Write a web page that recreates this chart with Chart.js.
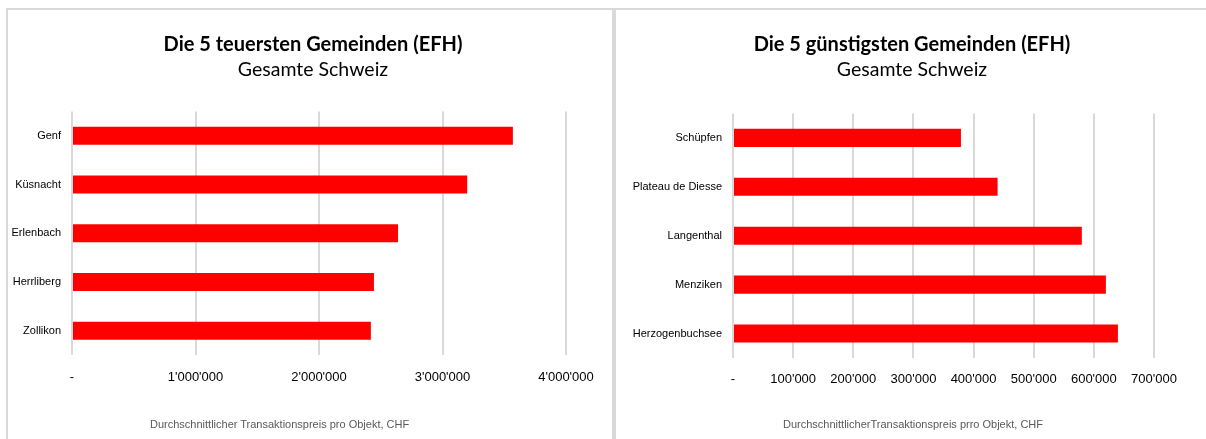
<!DOCTYPE html>
<html>
<head>
<meta charset="utf-8">
<script src="https://cdn.jsdelivr.net/npm/chart.js@4/dist/chart.umd.min.js"></script>
<style>
  html, body { margin: 0; padding: 0; background: #fff; width: 1206px; height: 439px; overflow: hidden; }
  .panel { position: absolute; top: 8px; height: 460px; border: 2px solid #d9d9d9; box-sizing: border-box; background: #fff; }
  #p1 { left: 6px; width: 608px; }
  #p2 { left: 614px; width: 600px; }
  canvas { position: absolute; left: 0; top: 0; }
  .foot { position: absolute; top: 408px; font-family: "Liberation Sans", Arial, sans-serif; font-size: 11px; color: #595959; white-space: nowrap; }
</style>
</head>
<body>
<div class="panel" id="p1">
  <canvas id="c1" width="604" height="429"></canvas>
  <div class="foot" id="f1" style="left:142px;">Durchschnittlicher Transaktionspreis pro Objekt, CHF</div>
</div>
<div class="panel" id="p2">
  <canvas id="c2" width="590" height="429"></canvas>
  <div class="foot" id="f2" style="left:167px;">DurchschnittlicherTransaktionspreis prro Objekt, CHF</div>
</div>
<script>
// ---- Data ----
const leftTitle = 'Die 5 teuersten Gemeinden (EFH)';
const rightTitle = 'Die 5 günstigsten Gemeinden (EFH)';
const subTitle = 'Gesamte Schweiz';

const leftCategories = ['Genf', 'Küsnacht', 'Erlenbach', 'Herrliberg', 'Zollikon'];
const leftValues = [3570000, 3200000, 2640000, 2445000, 2420000];
const leftTickValues = [0, 1000000, 2000000, 3000000, 4000000];
const leftTickLabels = ['-', "1'000'000", "2'000'000", "3'000'000", "4'000'000"];

const rightCategories = ['Schüpfen', 'Plateau de Diesse', 'Langenthal', 'Menziken', 'Herzogenbuchsee'];
const rightValues = [379000, 440000, 580000, 620000, 640000];
const rightTickValues = [0, 100000, 200000, 300000, 400000, 500000, 600000, 700000];
const rightTickLabels = ['-', "100'000", "200'000", "300'000", "400'000", "500'000", "600'000", "700'000"];

// Let the category labels extend into the left padding (no clipping at the scale box)
const unclipLabels = {
  id: 'unclipLabels',
  afterLayout(chart) { chart.scales.y.left = 0; }
};

// ---- Chart builder ----
function makeChart(id, title, categories, values, tickValues, tickLabels, lay) {
  const step = tickValues[1] - tickValues[0];
  return new Chart(document.getElementById(id), {
    type: 'bar',
    data: {
      labels: categories,
      datasets: [{
        data: values,
        backgroundColor: '#ff0000',
        borderWidth: 0,
        barPercentage: 0.37,
        categoryPercentage: 1.0
      }]
    },
    plugins: [unclipLabels],
    options: {
      indexAxis: 'y',
      responsive: false,
      animation: false,
      devicePixelRatio: 1,
      layout: { padding: { top: 0, left: lay.left, right: lay.right, bottom: lay.bottom } },
      plugins: {
        legend: { display: false },
        tooltip: { enabled: false },
        title: {
          display: true, text: title, color: '#000',
          font: { family: 'Lato', size: 20, weight: 'bold', lineHeight: 1.2 },
          padding: { top: 23, bottom: 1 }
        },
        subtitle: {
          display: true, text: subTitle, color: '#000',
          font: { family: 'Lato', size: 19.5, weight: 'normal', lineHeight: 1.2 },
          padding: { top: 0, bottom: lay.subBottom }
        }
      },
      scales: {
        x: {
          type: 'linear',
          min: tickValues[0],
          max: tickValues[tickValues.length - 1],
          afterBuildTicks: (scale) => { scale.ticks = tickValues.map(v => ({ value: v })); },
          afterFit: (scale) => { scale.height = 40; },
          grid: { color: '#d9d9d9', lineWidth: 2, drawTicks: false },
          border: { display: false },
          ticks: {
            stepSize: step,
            padding: lay.tickPad,
            color: '#000',
            font: { family: 'Liberation Sans', size: 13 },
            maxRotation: 0,
            autoSkip: false,
            callback: (v) => { const i = tickValues.indexOf(v); return i >= 0 ? tickLabels[i] : ''; }
          }
        },
        y: {
          afterFit: (scale) => { scale.width = lay.yWidth; },
          grid: { display: false, drawTicks: false },
          border: { display: false },
          ticks: {
            padding: 11,
            color: '#000',
            font: { family: 'Liberation Sans', size: 11 }
          }
        }
      }
    }
  });
}

makeChart('c1', leftTitle, leftCategories, leftValues, leftTickValues, leftTickLabels,
  { left: 52, right: 46, bottom: 44, yWidth: 12, subBottom: 30, tickPad: 15 });
makeChart('c2', rightTitle, rightCategories, rightValues, rightTickValues, rightTickLabels,
  { left: 54, right: 52, bottom: 41, yWidth: 63, subBottom: 32, tickPad: 14 });
</script>
</body>
</html>
